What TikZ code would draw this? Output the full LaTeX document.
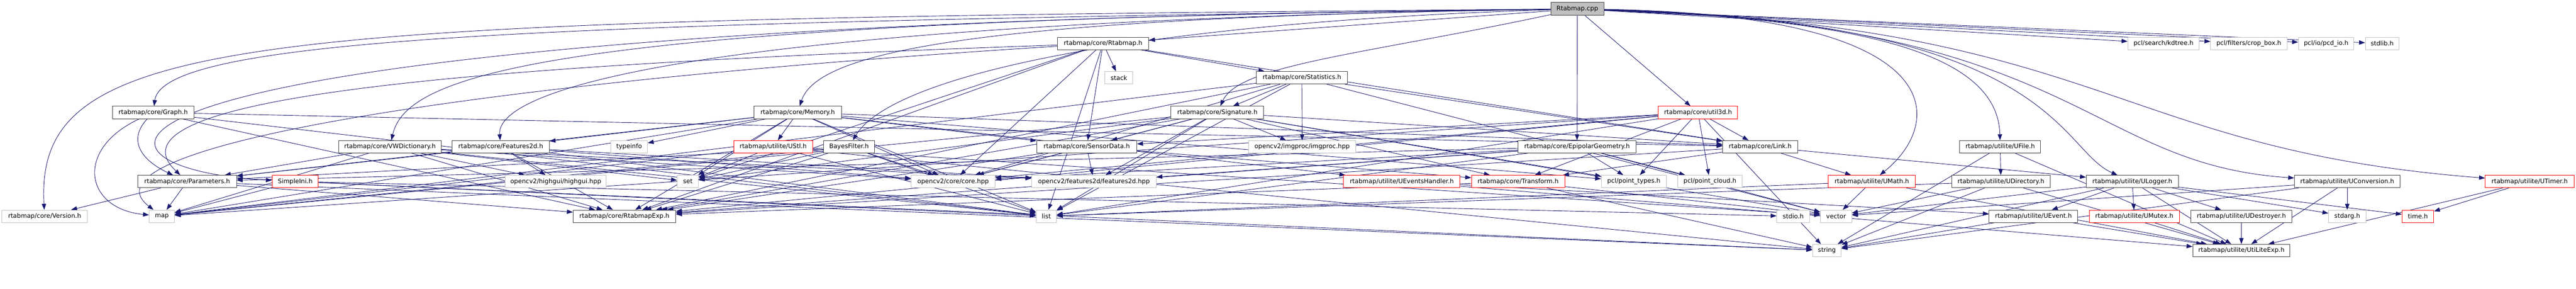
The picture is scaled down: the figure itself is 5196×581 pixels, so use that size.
\documentclass[tikz,border=0pt]{standalone}
\usepackage{fontspec}
\setmainfont{DejaVu Sans}
\usetikzlibrary{arrows.meta}
\definecolor{edgec}{HTML}{191970}
\definecolor{blk}{HTML}{404040}
\definecolor{gry}{HTML}{BFBFBF}
\definecolor{rd}{HTML}{FF0000}
\pgfdeclarelayer{bg}
\pgfsetlayers{bg,main}
\tikzset{
  nb/.style={draw=#1, fill=white, line width=0.75pt, inner sep=0pt, minimum height=18.75pt, text=black},
  e/.style={draw=edgec, line width=0.7pt, -{Triangle[length=9pt,width=6.5pt]}}
}
\newcommand\nd[6]{\node[nb=#5, minimum width={(#3-#2)*0.75pt}] (#1) at ({(#2+#3)/2},{#4+12.5}) {#6};}
\begin{document}
\begin{tikzpicture}[x=0.75pt, y=-0.75pt, font=\fontsize{9.4}{11}\selectfont]
\useasboundingbox (0,0) rectangle (5196,581);
\node[nb=blk, fill=gry, minimum width={107*0.75pt}, minimum height=19.5pt] (root) at (3181.5,18) {Rtabmap.cpp};
\nd{rtabmaph}{2133}{2317}{75}{blk}{rtabmap/core/Rtabmap.h}
\nd{kdtree}{4292}{4436}{75}{gry}{pcl/search/kdtree.h}
\nd{cropbox}{4459}{4613}{75}{gry}{pcl/filters/crop\_box.h}
\nd{pcdio}{4636}{4748}{75}{gry}{pcl/io/pcd\_io.h}
\nd{stdlib}{4771}{4839}{75}{gry}{stdlib.h}
\nd{stack}{2229}{2285}{144}{gry}{stack}
\nd{stats}{2534}{2718}{144}{blk}{rtabmap/core/Statistics.h}
\nd{graph}{227}{391}{214}{blk}{rtabmap/core/Graph.h}
\nd{memory}{1521}{1697}{214}{blk}{rtabmap/core/Memory.h}
\nd{signature}{2362}{2549}{214}{blk}{rtabmap/core/Signature.h}
\nd{util3d}{3345}{3505}{214}{rd}{rtabmap/core/util3d.h}
\nd{vwdict}{683}{890}{283}{blk}{rtabmap/core/VWDictionary.h}
\nd{feat2d}{912}{1108}{283}{blk}{rtabmap/core/Features2d.h}
\nd{typeinfo}{1232}{1306}{283}{gry}{typeinfo}
\nd{ustl}{1480}{1639}{283}{rd}{rtabmap/utilite/UStl.h}
\nd{bayes}{1661}{1764}{283}{blk}{BayesFilter.h}
\nd{sensor}{2091}{2293}{283}{blk}{rtabmap/core/SensorData.h}
\nd{imgproc}{2518}{2735}{283}{gry}{opencv2/imgproc/imgproc.hpp}
\nd{epipolar}{3062}{3300}{283}{blk}{rtabmap/core/EpipolarGeometry.h}
\nd{link}{3475}{3626}{283}{blk}{rtabmap/core/Link.h}
\nd{ufile}{3953}{4116}{283}{blk}{rtabmap/utilite/UFile.h}
\nd{params}{278}{477}{353}{blk}{rtabmap/core/Parameters.h}
\nd{simpleini}{549}{642}{353}{rd}{SimpleIni.h}
\nd{highgui}{1019}{1223}{353}{gry}{opencv2/highgui/highgui.hpp}
\nd{set}{1366}{1409}{353}{gry}{set}
\nd{corehpp}{1838}{2007}{353}{gry}{opencv2/core/core.hpp}
\nd{fdhpp}{2081}{2332}{353}{gry}{opencv2/features2d/features2d.hpp}
\nd{uevh}{2710}{2945}{353}{rd}{rtabmap/utilite/UEventsHandler.h}
\nd{transform}{2968}{3156}{353}{rd}{rtabmap/core/Transform.h}
\nd{ptypes}{3230}{3361}{353}{gry}{pcl/point\_types.h}
\nd{pcloud}{3384}{3514}{353}{gry}{pcl/point\_cloud.h}
\nd{umath}{3688}{3863}{353}{rd}{rtabmap/utilite/UMath.h}
\nd{udir}{3937}{4135}{353}{blk}{rtabmap/utilite/UDirectory.h}
\nd{ulogger}{4208}{4394}{353}{blk}{rtabmap/utilite/ULogger.h}
\nd{uconv}{4628}{4841}{353}{blk}{rtabmap/utilite/UConversion.h}
\nd{utimer}{5013}{5192}{353}{rd}{rtabmap/utilite/UTimer.h}
\nd{version}{4}{176}{423}{gry}{rtabmap/core/Version.h}
\nd{map}{301}{352}{423}{gry}{map}
\nd{rtexp}{1156}{1363}{423}{blk}{rtabmap/core/RtabmapExp.h}
\nd{list}{2090}{2131}{423}{gry}{list}
\nd{stdio}{3584}{3650}{423}{gry}{stdio.h}
\nd{vector}{3672}{3735}{423}{gry}{vector}
\nd{uevent}{4012}{4191}{423}{blk}{rtabmap/utilite/UEvent.h}
\nd{umutex}{4214}{4396}{423}{rd}{rtabmap/utilite/UMutex.h}
\nd{udestroyer}{4419}{4623}{423}{blk}{rtabmap/utilite/UDestroyer.h}
\nd{stdarg}{4697}{4772}{423}{gry}{stdarg.h}
\nd{timeh}{4845}{4909}{423}{rd}{time.h}
\nd{string}{3656}{3714}{492}{gry}{string}
\nd{utilexp}{4423}{4619}{492}{blk}{rtabmap/utilite/UtiLiteExp.h}
\begin{pgfonlayer}{bg}
% Rtabmap.cpp
\foreach \t in {rtabmaph,epipolar,util3d,kdtree,cropbox,pcdio,stdlib} \draw[e] (root) -- (\t);
\draw[e] (root) .. controls (2750,110) and (2500,130) .. (signature);
\draw[e] (root) .. controls (500,40) and (70,60) .. (version);
\draw[e] (root) .. controls (1200,45) and (330,70) .. (graph);
\draw[e] (root) .. controls (0,50) and (100,340) .. (simpleini);
\draw[e] (root) .. controls (1100,40) and (820,150) .. (vwdict);
\draw[e] (root) .. controls (1400,45) and (1000,180) .. (feat2d);
\draw[e] (root) .. controls (2000,35) and (1650,100) .. (memory);
\draw[e] (root) .. controls (2300,45) and (1800,150) .. (bayes);
\draw[e] (root) .. controls (3950,30) and (3920,250) .. (umath);
\draw[e] (root) .. controls (3800,40) and (4030,120) .. (ufile);
\draw[e] (root) .. controls (4150,40) and (4150,300) .. (ulogger);
\draw[e] (root) .. controls (4200,45) and (4200,330) .. (uconv);
\draw[e] (root) .. controls (4253,50) and (4253,300) .. (utimer);
% Rtabmap.h
\foreach \t in {stack,stats,sensor,rtexp,link,corehpp,list,set} \draw[e] (rtabmaph) -- (\t);
\draw[e] (rtabmaph) .. controls (1000,130) and (190,190) .. (params);
\draw[e] (rtabmaph) .. controls (900,170) and (150,300) .. (map);
% others
\foreach \t in {signature,imgproc,link,rtexp,corehpp,list,vector,map} \draw[e] (stats) -- (\t);
\draw[e] (graph) .. controls (250,290) and (300,330) .. (params);
\draw[e] (graph) .. controls (150,300) and (170,420) .. (map);
\foreach \t in {rtexp,link,list} \draw[e] (graph) -- (\t);
\foreach \t in {feat2d,typeinfo,ustl,set,list,map,rtexp,params,link,sensor,corehpp,uevh,ptypes} \draw[e] (memory) -- (\t);
\foreach \t in {sensor,fdhpp,imgproc,corehpp,rtexp,list,set,map,link,transform,ptypes,vector} \draw[e] (signature) -- (\t);
\foreach \t in {link,ptypes,pcloud,string,corehpp,rtexp,transform,sensor,map,list} \draw[e] (util3d) -- (\t);
\foreach \t in {params,rtexp,corehpp,fdhpp,highgui,list,set,map} \draw[e] (vwdict) -- (\t);
\foreach \t in {highgui,corehpp,fdhpp,rtexp,params,list} \draw[e] (feat2d) -- (\t);
\foreach \t in {params,rtexp,corehpp,list,set,map} \draw[e] (bayes) -- (\t);
\foreach \t in {fdhpp,corehpp,rtexp,transform} \draw[e] (sensor) -- (\t);
\foreach \t in {ptypes,pcloud,corehpp,fdhpp,rtexp,list,vector,params} \draw[e] (epipolar) -- (\t);
\foreach \t in {umath,transform,rtexp,ulogger} \draw[e] (link) -- (\t);
\foreach \t in {udir,utilexp,string} \draw[e] (ufile) -- (\t);
\foreach \t in {set,map,list,vector,string} \draw[e] (ustl) -- (\t);
\foreach \t in {version,map,rtexp,string} \draw[e] (params) -- (\t);
\foreach \t in {map,list,stdio,string} \draw[e] (simpleini) -- (\t);
\foreach \t in {rtexp,vector,string} \draw[e] (transform) -- (\t);
\foreach \t in {uevent,utilexp} \draw[e] (uevh) -- (\t);
\foreach \t in {vector,list,utilexp} \draw[e] (umath) -- (\t);
\foreach \t in {utilexp,string,list,vector} \draw[e] (udir) -- (\t);
\foreach \t in {uevent,umutex,udestroyer,stdarg,utilexp,timeh,string,vector} \draw[e] (ulogger) -- (\t);
\foreach \t in {stdarg,string,utilexp,vector} \draw[e] (uconv) -- (\t);
\foreach \t in {timeh,utilexp} \draw[e] (utimer) -- (\t);
\foreach \t in {utilexp,string} \draw[e] (uevent) -- (\t);
\draw[e] (umutex) -- (utilexp);
\draw[e] (udestroyer) -- (utilexp);
\end{pgfonlayer}
\end{tikzpicture}
\end{document}
